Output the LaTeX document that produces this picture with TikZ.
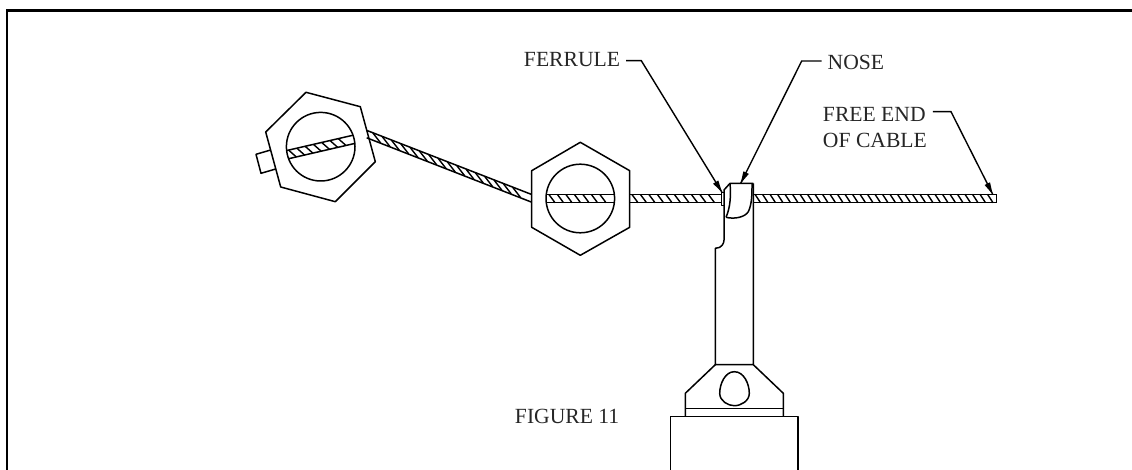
\documentclass[tikz,border=0pt]{standalone}
\usepackage{fontspec}
\setmainfont{Liberation Serif}

\begin{document}
\begin{tikzpicture}[scale=0.2]
              \tikzstyle{every node}+=[inner sep=0pt,outer sep=3.4pt,font=\fontsize{12.3}{14.5}\selectfont,text=black!85]
              \tikzstyle{part}=[black,line width=0.85pt,line join=round]
              \tikzstyle{rail}=[black,line width=0.85pt]
              \tikzstyle{twist}=[black,line width=0.8pt]
              \tikzstyle{leader}=[black,line width=0.8pt]
              \useasboundingbox (0,0) rectangle (113.2,-47);
              % frame
              \draw [black,line width=1.4pt] (0.7,-47) -- (0.7,-1.05) -- (113.2,-1.05);
              % first nut, tilted
              \draw [part] (30.6,-9.23) -- (36.03,-10.67) -- (37.53,-16.17) -- (33.53,-20.17) -- (28.07,-18.7) -- (26.57,-13.2) -- cycle;
              \draw [part] (32.07,-14.67) circle (3.43);
              \draw [part] (27.07,-15) -- (25.6,-15.43) -- (26.1,-17.33) -- (27.57,-16.9);
              \begin{scope}[shift={(32.07,-14.7)},rotate=13]
                \draw [rail] (-3.41,0.42) -- (3.41,0.42);
                \draw [rail] (-3.41,-0.42) -- (3.41,-0.42);
                \foreach \x in {-3.2,-2.35,...,2.7}
                  \draw [twist] (\x,0.42) -- (\x+0.6,-0.42);
              \end{scope}
              % cable between the nuts
              \draw [rail] (36.7,-13.05) -- (53.17,-19.45);
              \draw [rail] (36.67,-13.78) -- (53.17,-20.22);
              \begin{scope}[shift={(36.7,-13.42)},rotate=-21.25]
                \foreach \x in {0.5,1.5,...,16.4}
                  \draw [twist] (\x,0.33) -- (\x+1.1,-0.33);
              \end{scope}
              % second nut
              \draw [part] (58.03,-14.23) -- (62.97,-17.07) -- (62.97,-22.73) -- (58.03,-25.53) -- (53.17,-22.73) -- (53.17,-17.07) -- cycle;
              \draw [part] (58.03,-19.85) circle (3.43);
              \draw [rail] (54.64,-19.46) -- (61.42,-19.46);
              \draw [rail] (54.64,-20.27) -- (61.42,-20.27);
              \foreach \x in {54.9,55.75,...,60.8}
                \draw [twist] (\x,-19.46) -- (\x+0.6,-20.27);
              % cable up to the ferrule
              \draw [rail] (62.97,-19.46) -- (72.17,-19.46);
              \draw [rail] (62.97,-20.27) -- (72.17,-20.27);
              \foreach \x in {63.2,64.05,...,71.4}
                \draw [twist] (\x,-19.46) -- (\x+0.6,-20.27);
              % free end
              \draw [rail] (75.33,-19.43) -- (99.67,-19.43) -- (99.67,-20.27) -- (75.33,-20.27);
              \foreach \x in {75.5,76.25,...,99}
                \draw [twist] (\x,-19.43) -- (\x+0.55,-20.27);
              % ferrule and nose
              \draw [part] (72.17,-19.23) rectangle (72.45,-20.57);
              \draw [part] (72.4,-19) -- (73,-18.33) -- (75.33,-18.33);
              \draw [part] (73,-18.33) .. controls (73.1,-19.5) and (73.05,-20.7) .. (72.6,-21.73);
              \draw [part] (75.2,-18.4) .. controls (75.2,-19.4) and (75.2,-20.4) .. (74.83,-21.17) .. controls (74.5,-21.7) and (73.5,-21.95) .. (72.6,-21.73);
              % shaft
              \draw [part] (75.33,-18.33) -- (75.33,-36.47) -- (71.53,-36.47) -- (71.53,-24.83) .. controls (72.2,-24.83) and (72.4,-24.3) .. (72.4,-24) -- (72.4,-19);
              \draw [part] (71.53,-36.47) -- (68.53,-39.33) -- (68.53,-41.67);
              \draw [part] (75.33,-36.47) -- (78.33,-39.33) -- (78.33,-41.67);
              \draw [part] (68.53,-40.83) -- (78.33,-40.83);
              \draw [part] (73.43,-37.17) .. controls (74.4,-37.17) and (74.93,-38.4) .. (74.93,-39.33) .. controls (74.93,-40.1) and (74.1,-40.57) .. (73.43,-40.57) .. controls (72.8,-40.57) and (71.97,-40.1) .. (71.97,-39.33) .. controls (71.97,-38.4) and (72.5,-37.17) .. (73.43,-37.17);
              \draw [part] (67.07,-47) -- (67.07,-41.67) -- (79.8,-41.67) -- (79.8,-47);
              % labels
              \node (labelferrule) [anchor=base west] at (51.8,-6.67) {FERRULE};
              \node (labelnose) [anchor=base west] at (82.17,-7) {NOSE};
              \node (labelfree) [anchor=north west,align=left] at (81.7,-10.15) {FREE END\\OF CABLE};
              \node (labelfigure) [anchor=base west] at (50.9,-42.3) {FIGURE 11};
              % leaders
              \coordinate (ferrulejog) at (64.13,-6.07);
              \coordinate (ferruletip) at (72.2,-19.23);
              \coordinate (nosejog) at (80.17,-6.1);
              \coordinate (nosetip) at (74.07,-18.33);
              \coordinate (freejog) at (95.1,-11.17);
              \coordinate (freetip) at (99.27,-19.43);
              \draw [leader] (labelferrule.east |- ferrulejog) -- (ferrulejog) -- (ferruletip);
              \fill [black] (ferruletip) -- (71.83,-18.05) -- (71.31,-18.37);
              \draw [leader] (labelnose.west |- nosejog) -- (nosejog) -- (nosetip);
              \fill [black] (nosetip) -- (74.88,-17.39) -- (74.34,-17.13);
              \draw [leader] (labelfree.east |- freejog) -- (freejog) -- (freetip);
              \fill [black] (freetip) -- (99,-18.23) -- (98.46,-18.5);
            \end{tikzpicture}
\end{document}
